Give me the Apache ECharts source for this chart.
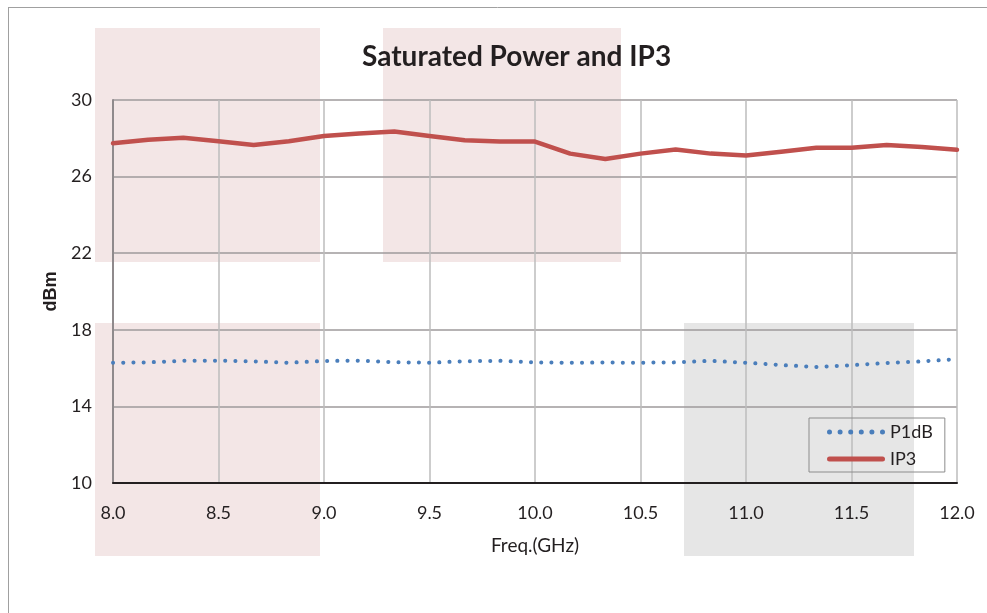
<!DOCTYPE html>
<html>
<head>
<meta charset="utf-8">
<script src="https://cdn.jsdelivr.net/npm/echarts@6/dist/echarts.min.js"></script>
<style>
html,body{margin:0;padding:0;background:#fff;}
#c{width:987px;height:613px;}
</style>
</head>
<body>
<div id="c"></div>
<script>
// Frequencies (GHz)
const freq = [8.0, 8.1667, 8.3333, 8.5, 8.6667, 8.8333, 9.0, 9.1667, 9.3333, 9.5, 9.6667, 9.8333, 10.0,
              10.1667, 10.3333, 10.5, 10.6667, 10.8333, 11.0, 11.1667, 11.3333, 11.5, 11.6667, 11.8333, 12.0];
// P1dB (dBm)
const p1db = [16.28, 16.30, 16.38, 16.39, 16.35, 16.28, 16.37, 16.39, 16.31, 16.28, 16.36, 16.38, 16.30,
              16.28, 16.29, 16.28, 16.30, 16.38, 16.28, 16.16, 16.06, 16.15, 16.27, 16.35, 16.47];
// IP3 (dBm)
const ip3 = [27.74, 27.92, 28.03, 27.85, 27.65, 27.85, 28.12, 28.25, 28.35, 28.12, 27.90, 27.83, 27.83,
             27.20, 26.92, 27.20, 27.42, 27.20, 27.10, 27.30, 27.51, 27.51, 27.65, 27.55, 27.40];
const seriesNames = ['P1dB', 'IP3'];
const titleText = 'Saturated Power and IP3';
const xName = 'Freq.(GHz)';
const yName = 'dBm';

const FONT = 'Lato';
const chart = echarts.init(document.getElementById('c'), null, {renderer: 'canvas'});

const pair = (xs, ys) => xs.map((x, i) => [x, ys[i]]);

// legend icons: a row of dots, and a rounded bar
function dotsPath(n, w, r) {
  const step = (w - 2 * r) / (n - 1);
  let p = '';
  for (let i = 0; i < n; i++) {
    const cx = r + i * step;
    p += 'M' + (cx - r) + ',' + r + ' A' + r + ',' + r + ' 0 1,0 ' + (cx + r) + ',' + r +
         ' A' + r + ',' + r + ' 0 1,0 ' + (cx - r) + ',' + r + ' Z ';
  }
  return 'path://' + p;
}
const barPath = 'path://M2.5,0 L55.5,0 A2.5,2.5 0 0,1 55.5,5 L2.5,5 A2.5,2.5 0 0,1 2.5,0 Z';

chart.setOption({
  animation: false,
  backgroundColor: '#ffffff',
  textStyle: {fontFamily: FONT},
  title: {
    text: titleText,
    left: 357, top: 38,
    textStyle: {fontFamily: FONT, fontWeight: 'bold', fontSize: 28, color: '#231f20'}
  },
  graphic: [
    {type: 'rect', z: -10, silent: true, shape: {x: 95, y: 28, width: 225, height: 234}, style: {fill: '#f3e6e6'}},
    {type: 'rect', z: -10, silent: true, shape: {x: 383, y: 28, width: 238, height: 234}, style: {fill: '#f3e6e6'}},
    {type: 'rect', z: -10, silent: true, shape: {x: 95, y: 323, width: 225, height: 233}, style: {fill: '#f3e6e6'}},
    {type: 'rect', z: -10, silent: true, shape: {x: 684, y: 323, width: 230, height: 233}, style: {fill: '#e6e6e6'}},
    {type: 'line', z: -5, silent: true, shape: {x1: 8, y1: 7.5, x2: 987, y2: 7.5}, style: {stroke: '#a0a0a0', lineWidth: 1}},
    {type: 'line', z: -5, silent: true, shape: {x1: 8.5, y1: 7, x2: 8.5, y2: 613}, style: {stroke: '#a0a0a0', lineWidth: 1}}
  ],
  grid: {left: 113, top: 100, right: 30, bottom: 130, containLabel: false},
  legend: {
    left: 809, top: 418,
    orient: 'vertical',
    borderColor: '#8c8c8c', borderWidth: 1,
    padding: [5, 12, 4, 18],
    itemWidth: 58, itemHeight: 5, itemGap: 9,
    backgroundColor: 'transparent',
    itemStyle: {borderWidth: 0},
    textStyle: {fontFamily: FONT, fontSize: 18, color: '#231f20', lineHeight: 18},
    data: [
      {name: seriesNames[0], icon: dotsPath(6, 58, 2.5)},
      {name: seriesNames[1], icon: barPath}
    ]
  },
  xAxis: {
    type: 'value', min: 8, max: 12, interval: 0.5,
    name: xName, nameLocation: 'middle', nameGap: 53,
    nameTextStyle: {fontFamily: FONT, fontSize: 19, color: '#231f20'},
    axisLine: {show: true, lineStyle: {color: '#231f20', width: 2}},
    axisTick: {show: false},
    axisLabel: {fontFamily: FONT, fontSize: 18, color: '#231f20', margin: 21, formatter: v => v.toFixed(1)},
    splitLine: {show: true, lineStyle: {color: '#bdbdbd', width: 1.5}}
  },
  yAxis: {
    type: 'value', min: 10, max: 30, interval: 4,
    name: yName, nameLocation: 'middle', nameGap: 52,
    nameTextStyle: {fontFamily: 'Liberation Sans', fontSize: 18, fontWeight: 'bold', color: '#231f20'},
    axisLine: {show: true, lineStyle: {color: '#8f8a8c', width: 2}},
    axisTick: {show: false},
    axisLabel: {fontFamily: FONT, fontSize: 18, color: '#231f20', margin: 21},
    splitLine: {show: true, lineStyle: {color: '#9e9a9b', width: 1.5}}
  },
  series: [
    {
      name: seriesNames[0], type: 'line', data: pair(freq, p1db),
      symbol: 'none', smooth: false,
      lineStyle: {color: '#4a7ebb', width: 4, type: [0.1, 10.1], cap: 'round'},
      itemStyle: {color: '#4a7ebb'}
    },
    {
      name: seriesNames[1], type: 'line', data: pair(freq, ip3),
      symbol: 'none', smooth: false,
      lineStyle: {color: '#c0504d', width: 4.5, cap: 'round', join: 'round'},
      itemStyle: {color: '#c0504d'}
    }
  ]
});
</script>
</body>
</html>
